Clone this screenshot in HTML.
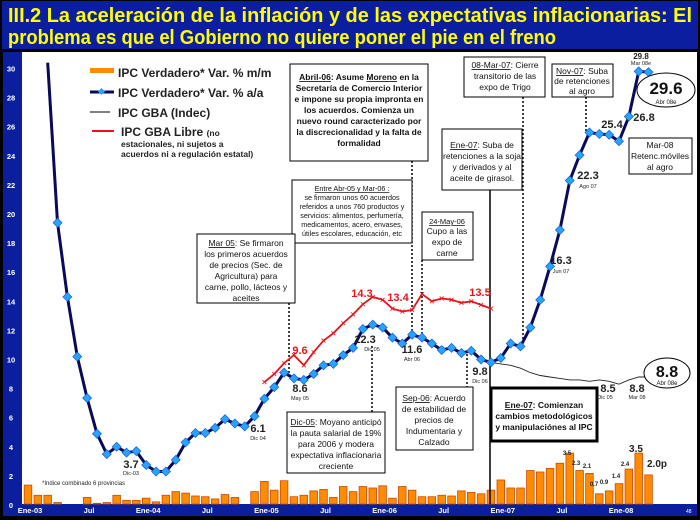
<!DOCTYPE html>
<html><head><meta charset="utf-8"><style>
body{margin:0;background:#000;}
svg{display:block;font-family:"Liberation Sans",sans-serif;}
</style></head><body>
<svg width="700" height="520" viewBox="0 0 700 520" xmlns="http://www.w3.org/2000/svg">
<rect x="0" y="0" width="700" height="520" fill="#000"/>
<rect x="2" y="1" width="696" height="48" fill="#0b1f9e"/>
<text x="8" y="22" font-size="20" font-weight="bold" fill="#ffff00" textLength="684" lengthAdjust="spacingAndGlyphs">III.2 La aceleración de la inflación y de las expectativas inflacionarias: El</text>
<text x="8" y="44" font-size="20" font-weight="bold" fill="#ffff00" textLength="548" lengthAdjust="spacingAndGlyphs">problema es que el Gobierno no quiere poner el pie en el freno</text>
<rect x="3" y="52" width="694" height="464" fill="#0b1f9e"/>
<rect x="22" y="52" width="675" height="452" fill="#fff"/>
<g id="yaxis"></g>
<g id="xaxis"></g>
<g id="bars"></g>
<g id="guides">
<line x1="490" y1="190" x2="490" y2="504" stroke="#000" stroke-width="1.5"/>
<line x1="412" y1="161" x2="412" y2="338" stroke="#000" stroke-width="1.5" stroke-dasharray="2,2"/>
<line x1="422" y1="260" x2="422" y2="334" stroke="#000" stroke-width="1.5" stroke-dasharray="2,2"/>
<line x1="289" y1="303" x2="289" y2="376" stroke="#000" stroke-width="1.5" stroke-dasharray="2,2"/>
<line x1="372" y1="346" x2="372" y2="412" stroke="#000" stroke-width="1.5" stroke-dasharray="2,2"/>
<line x1="467" y1="354" x2="467" y2="387" stroke="#000" stroke-width="1.5" stroke-dasharray="2,2"/>
<line x1="523" y1="97" x2="523" y2="345" stroke="#000" stroke-width="1.5" stroke-dasharray="2,2"/>
<line x1="586" y1="97" x2="586" y2="133" stroke="#000" stroke-width="1.5" stroke-dasharray="2,2"/>
</g>
<g id="lines"></g>
<g id="legend">
<rect x="90" y="68" width="24" height="5" fill="#ff8c00"/>
<text x="118" y="77" font-size="12" font-weight="bold" fill="#222">IPC Verdadero* Var. % m/m</text>
<line x1="90" y1="92" x2="114" y2="92" stroke="#0a0a5a" stroke-width="3"/>
<rect x="99" y="89" width="5" height="5" fill="#29a3ff" transform="rotate(45 101.5 91.5)"/>
<text x="118" y="97" font-size="12" font-weight="bold" fill="#222">IPC Verdadero* Var. % a/a</text>
<line x1="90" y1="112" x2="110" y2="112" stroke="#000" stroke-width="1"/>
<text x="118" y="117" font-size="12" font-weight="bold" fill="#222">IPC GBA (Indec)</text>
<line x1="92" y1="131" x2="114" y2="131" stroke="#e8141c" stroke-width="2"/>
<text x="121" y="136" font-size="12" font-weight="bold" fill="#222">IPC GBA Libre <tspan font-size="8.5">(no</tspan></text>
<text x="121" y="147" font-size="8.5" font-weight="bold" fill="#222">estacionales, ni sujetos a</text>
<text x="121" y="157" font-size="8.5" font-weight="bold" fill="#222">acuerdos ni a regulación estatal)</text>
</g>
<text x="42" y="485" font-size="6" fill="#222">*Indice combinado 6 provincias</text>
<g id="boxes" font-size="8.5" fill="#111" text-anchor="middle">
<g><rect x="290" y="64" width="138" height="97" fill="#fff" stroke="#000"/>
<text x="359" y="80" font-weight="bold"><tspan text-decoration="underline">Abril-06</tspan>: Asume <tspan text-decoration="underline">Moreno</tspan> en la</text>
<text x="359" y="91" font-weight="bold">Secretaría de Comercio Interior</text>
<text x="359" y="102" font-weight="bold">e impone su propia impronta en</text>
<text x="359" y="113" font-weight="bold">los acuerdos. Comienza un</text>
<text x="359" y="124" font-weight="bold">nuevo round caracterizado por</text>
<text x="359" y="135" font-weight="bold">la discrecionalidad y la falta de</text>
<text x="359" y="146" font-weight="bold">formalidad</text></g>
<g font-size="7.2"><rect x="292" y="180" width="120" height="63" fill="#fff" stroke="#000"/>
<text x="352" y="191" text-decoration="underline">Entre Abr-05 y Mar-06  :</text>
<text x="352" y="200">se firmaron unos 60 acuerdos</text>
<text x="352" y="209">referidos a unos 760 productos y</text>
<text x="352" y="218">servicios: alimentos, perfumería,</text>
<text x="352" y="227">medicamentos, acero, envases,</text>
<text x="352" y="236">útiles escolares, educación, etc</text></g>
<g><rect x="422" y="212" width="51" height="48" fill="#fff" stroke="#000"/>
<text x="447" y="224" font-size="7.5" text-decoration="underline">24-May-06</text>
<text x="447" y="234">Cupo a las</text><text x="447" y="245">expo de</text><text x="447" y="256">carne</text></g>
<g><rect x="197" y="234" width="98" height="69" fill="#fff" stroke="#000"/>
<text x="246" y="246"><tspan text-decoration="underline">Mar 05</tspan>: Se firmaron</text>
<text x="246" y="257">los primeros acuerdos</text><text x="246" y="268">de precios (Sec. de</text>
<text x="246" y="279">Agricultura) para</text><text x="246" y="290">carne, pollo, lácteos y</text><text x="246" y="301">aceites</text></g>
<g><rect x="442" y="129" width="80" height="61" fill="#fff" stroke="#000"/>
<text x="482" y="148"><tspan text-decoration="underline">Ene-07</tspan>: Suba de</text>
<text x="482" y="159">retenciones a la soja</text><text x="482" y="170">y derivados y al</text><text x="482" y="181">aceite de girasol.</text></g>
<g><rect x="464" y="57" width="81" height="40" fill="#fff" stroke="#000"/>
<text x="505" y="68"><tspan text-decoration="underline">08-Mar-07</tspan>: Cierre</text>
<text x="505" y="79">transitorio de las</text><text x="505" y="90">expo de Trigo</text></g>
<g><rect x="552" y="64" width="61" height="33" fill="#fff" stroke="#000"/>
<text x="582" y="74"><tspan text-decoration="underline">Nov-07</tspan>: Suba</text>
<text x="582" y="84">de retenciones</text><text x="582" y="94">al agro</text></g>
<g><rect x="629" y="138" width="63" height="36" fill="#fff" stroke="#000"/>
<text x="660" y="148">Mar-08</text><text x="660" y="159">Retenc.móviles</text><text x="660" y="170">al agro</text></g>
<g><rect x="287" y="412" width="98" height="61" fill="#fff" stroke="#000"/>
<text x="336" y="425"><tspan text-decoration="underline">Dic-05</tspan>: Moyano anticipó</text>
<text x="336" y="436">la pauta salarial de 19%</text><text x="336" y="447">para 2006 y modera</text>
<text x="336" y="458">expectativa inflacionaria</text><text x="336" y="469">creciente</text></g>
<g><rect x="396" y="387" width="77" height="63" fill="#fff" stroke="#000"/>
<text x="434" y="401"><tspan text-decoration="underline">Sep-06</tspan>: Acuerdo</text>
<text x="434" y="412">de estabilidad de</text><text x="434" y="423">precios de</text>
<text x="434" y="434">Indumentaria y</text><text x="434" y="445">Calzado</text></g>
<g><rect x="491" y="388" width="106" height="53" fill="#fff" stroke="#000" stroke-width="3"/>
<text x="544" y="408" font-weight="bold"><tspan text-decoration="underline">Ene-07</tspan>: Comienzan</text>
<text x="544" y="419" font-weight="bold">cambios metodológicos</text>
<text x="544" y="430" font-weight="bold">y manipulaciónes al IPC</text></g>
<g><ellipse cx="666" cy="90" rx="29" ry="17" fill="#fff" stroke="#000"/>
<text x="666" y="94" font-size="17" font-weight="bold">29.6</text><text x="666" y="104" font-size="6">Abr 08e</text></g>
<g><ellipse cx="667" cy="373" rx="23" ry="15" fill="#fff" stroke="#000"/>
<text x="667" y="377" font-size="16" font-weight="bold">8.8</text><text x="667" y="385" font-size="6">Abr 08e</text></g>
</g>
<g id="labels" text-anchor="middle" font-weight="bold" fill="#222">
<text x="131" y="468" font-size="11">3.7</text><text x="131" y="475" font-size="5.5" font-weight="normal">Dic-03</text>
<text x="258" y="432" font-size="11">6.1</text><text x="258" y="440" font-size="5.5" font-weight="normal">Dic 04</text>
<text x="300" y="392" font-size="11">8.6</text><text x="300" y="400" font-size="5.5" font-weight="normal">May 05</text>
<text x="365" y="343" font-size="11">12.3</text><text x="372" y="351" font-size="5.5" font-weight="normal">Dic 05</text>
<text x="412" y="353" font-size="11">11.6</text><text x="412" y="361" font-size="5.5" font-weight="normal">Abr 06</text>
<text x="480" y="375" font-size="11">9.8</text><text x="480" y="383" font-size="5.5" font-weight="normal">Dic 06</text>
<text x="561" y="264" font-size="11">16.3</text><text x="561" y="273" font-size="5.5" font-weight="normal">Jun 07</text>
<text x="588" y="179" font-size="11">22.3</text><text x="588" y="188" font-size="5.5" font-weight="normal">Ago 07</text>
<text x="612" y="128" font-size="11">25.4</text>
<text x="644" y="121" font-size="11">26.8</text>
<text x="641" y="59" font-size="8">29.8</text><text x="641" y="65" font-size="5.5" font-weight="normal">Mar 08e</text>
<text x="608" y="392" font-size="11">8.5</text><text x="605" y="399" font-size="5.5" font-weight="normal">Dic 05</text>
<text x="637" y="392" font-size="11">8.8</text><text x="637" y="399" font-size="5.5" font-weight="normal">Mar 08</text>
<text x="300" y="354" font-size="11" fill="#e8141c">9.6</text>
<text x="362" y="297" font-size="11" fill="#e8141c">14.3</text>
<text x="398" y="301" font-size="11" fill="#e8141c">13.4</text>
<text x="480" y="296" font-size="11" fill="#e8141c">13.5</text>
<text x="567" y="455" font-size="6">3.5</text>
<text x="576" y="465" font-size="6">2.3</text><text x="587" y="468" font-size="6">2.1</text>
<text x="594" y="486" font-size="6">0.7</text><text x="604" y="484" font-size="6">0.9</text>
<text x="616" y="478" font-size="6">1.4</text><text x="625" y="466" font-size="6">2.4</text>
<text x="636" y="452" font-size="10">3.5</text><text x="657" y="467" font-size="10">2.0p</text>
</g>
<text x="686" y="513" font-size="5" fill="#fff">48</text>
<script>
const yTicks=[0,2,4,6,8,10,12,14,16,18,20,22,24,26,28,30];
const xTickLabels=["Ene-03","Jul","Ene-04","Jul","Ene-05","Jul","Ene-06","Jul","Ene-07","Jul","Ene-08"];
const xTickMonths=[0,6,12,18,24,30,36,42,48,54,60];
const barValues=[1.3,0.6,0.6,0.1,0,0,0.45,0.05,0.1,0.6,0.25,0.25,0.4,0.15,0.6,0.85,0.75,0.55,0.5,0.35,0.65,0.45,0,0.85,1.55,0.95,1.6,0.5,0.6,0.9,1.0,0.45,1.2,0.85,1.2,1.1,1.25,0.4,1.2,0.95,0.5,0.5,0.6,0.55,0.9,0.8,0.7,0.95,1.65,1.1,1.1,2.3,2.2,2.45,2.8,3.5,2.3,2.1,0.7,0.9,1.4,2.4,3.5,2.0];
const aaStart=2;
const aaValues=[30.4,19.4,14.3,10.2,7.35,4.9,3.5,4.0,3.6,3.7,2.75,2.3,2.3,3.1,4.3,4.95,4.95,5.3,5.9,5.6,5.4,6.1,7.3,8.1,9.1,8.7,8.6,9.0,9.6,9.7,10.3,10.8,12.1,12.4,12.2,11.5,11.1,11.7,11.5,11.1,10.65,10.8,10.45,10.6,10.0,9.8,10.1,11.1,10.9,12.2,14.1,16.4,18.9,22.3,24.05,25.6,25.5,25.45,25.0,26.7,29.8,29.75];
const libreStart=24;
const libreValues=[8.45,9.0,9.75,10.3,9.6,10.5,11.3,11.8,12.5,13.1,13.8,14.3,14.1,13.5,13.3,13.4,14.5,14.0,14.2,14.1,13.9,14.0,13.75,13.5];
const indecStart=47;
const indecValues=[9.8,9.7,9.6,9.4,9.1,8.9,8.8,8.7,8.6,8.6,8.5,8.6,8.5,8.3,8.6,8.8,8.8];
const NS="http://www.w3.org/2000/svg";
function xs(i){return 28+9.85*i;}
function ys(v){return 505-14.55*v;}
function mk(tag,attrs,parent){const e=document.createElementNS(NS,tag);for(const k in attrs)e.setAttribute(k,attrs[k]);parent.appendChild(e);return e;}
const gy=document.getElementById('yaxis');
yTicks.forEach(v=>{const t=mk('text',{x:11,y:ys(v)+3,'font-size':7.5,'font-weight':'bold',fill:'#fff','text-anchor':'middle'},gy);t.textContent=v;

});
const gx=document.getElementById('xaxis');
xTickLabels.forEach((l,k)=>{const t=mk('text',{x:xs(xTickMonths[k])+2,y:513,'font-size':7.5,'font-weight':'bold',fill:'#fff','text-anchor':'middle'},gx);t.textContent=l;

});
const gb=document.getElementById('bars');
barValues.forEach((v,i)=>{if(v<=0)return;const r=mk('rect',{x:xs(i)-3.8,y:ys(v)-1,width:7.6,height:504-ys(v)+1,fill:'#ff8c00',stroke:'#c84a00','stroke-width':0.8},gb);

});
const gl=document.getElementById('lines');
function pts(start,vals){return vals.map((v,k)=>xs(start+k).toFixed(1)+','+ys(v).toFixed(1)).join(' ');}
const li=mk('polyline',{points:pts(indecStart,indecValues),fill:'none',stroke:'#222','stroke-width':0.9},gl);


const lr=mk('polyline',{points:pts(libreStart,libreValues),fill:'none',stroke:'#e8141c','stroke-width':1.8},gl);


libreValues.forEach((v,k)=>{const c=mk('path',{d:`M${xs(libreStart+k)-2},${ys(v)-2}l4,4m0,-4l-4,4`,stroke:'#e8141c','stroke-width':0.8},gl);

});
const la=mk('polyline',{points:pts(aaStart,aaValues),fill:'none',stroke:'#0a0a5a','stroke-width':3,'stroke-linejoin':'round'},gl);


aaValues.forEach((v,k)=>{if(k===0)return;const cx=xs(aaStart+k),cy=ys(v);const d=mk('path',{d:`M${cx},${cy-4.5}L${cx+4.5},${cy}L${cx},${cy+4.5}L${cx-4.5},${cy}Z`,fill:'#29a3ff',stroke:'#1060d0','stroke-width':0.7},gl);

});
</script>
</svg>
</body></html>
